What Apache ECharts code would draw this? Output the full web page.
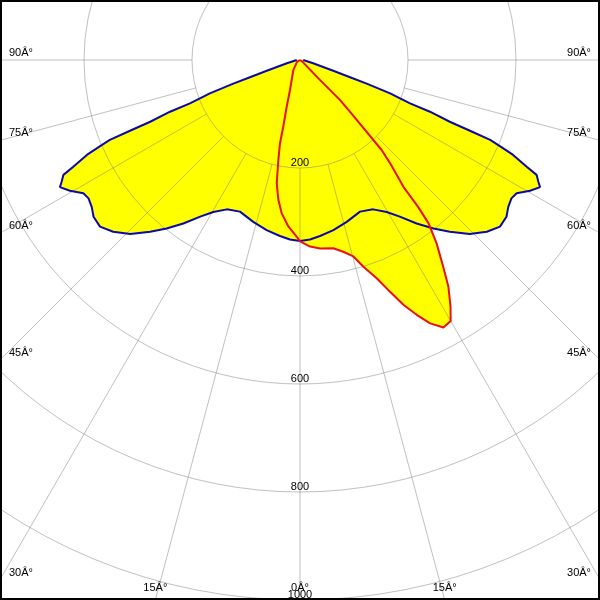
<!DOCTYPE html>
<html><head><meta charset="utf-8">
<script src="https://cdn.jsdelivr.net/npm/echarts@6/dist/echarts.min.js"></script>
<style>html,body{margin:0;padding:0;background:#fff}#c{width:600px;height:600px}</style>
</head><body><div id="c"></div>
<script>
// C0-C180 plane (symmetric): gamma (deg, one half, mirrored) and intensity
const blueGamma = [0,3.2,6.5,11.1,16.1,21.6,26.1,29.7,32.5,35.5,38.4,41.1,44.3,47.4,50.2,52.8,54.8,56.8,58.4,60.4,62.1,62.9,64.1,64.8,66.0,66.7,67.2,67.4,67.6,68.3,68.5,69.7,70.5,71,72,76,90];
const blueValue = [335,333,328,321,312,302,308,324,344,372,398,422,450,470,482,480,472,468,471,490,503,496,487,464,432,403,382,341,300,259,219,178,131,98,66,25,6];
// C90-C270 plane: gamma (deg, negative = left) and intensity
const redGamma = [-90,-60,-33.8,-18.4,-15.9,-14.1,-13.5,-12.2,-10.7,-8.8,-6.8,-4.0,-1.1,0,3.1,6.1,10.0,12.7,15.2,17.0,19.4,21.2,22.9,24.6,26.3,28.2,30.0,31.4,33.2,34.7,36.7,38.2,38.8,39.2,41.1,42.2,44.0,45,45,45,60,90];
const redValue = [0,6,22,59,90,127,159,190,232,262,286,309,327,336,346,351,354,364,377,400,429,460,492,519,544,562,558,535,502,466,423,385,349,303,254,225,133,105,79,52,4,0];
// angle tick labels (deg)
const labelAngles = [-90,-75,-60,-45,-30,-15,0,15,30,45,60,75,90];
const degSuffix = 'Â°';
// radius ticks
const radiusMin = 200, radiusMax = 1200, radiusStep = 200;

const W = 600, H = 600, CX = 300, CY = 60, R = 648; // R for radiusMax
const FONT = '"Liberation Sans", Arial, sans-serif';
const toAngle = g => (g < 0 ? 360 + g : g);

const blueData = [];
for (let i = blueGamma.length - 1; i >= 1; i--) blueData.push([blueValue[i], toAngle(-blueGamma[i])]);
for (let i = 0; i < blueGamma.length; i++) blueData.push([blueValue[i], blueGamma[i]]);
const redData = redGamma.map((g, i) => [redValue[i], toAngle(g)]);

const gridGray = 'rgba(130,130,130,0.5)';
const spokeColors = [];
for (let a = 0; a < 360; a += 15) spokeColors.push((a <= 90 || a >= 270) ? gridGray : 'rgba(0,0,0,0)');

const graphics = [];
labelAngles.forEach(g => {
  const rad = g * Math.PI / 180, s = Math.sin(rad), c = Math.cos(rad);
  const tSide = Math.abs(s) > 1e-9 ? (s > 0 ? (W - CX) / s : CX / -s) : Infinity;
  const tBot = c > 1e-9 ? (H - CY) / c : Infinity;
  const text = Math.abs(g) + degSuffix;
  let x, y, align;
  if (tSide <= tBot) {
    y = CY + tSide * c - 7;
    if (g < 0) { x = 9; align = 'left'; } else { x = 591; align = 'right'; }
  } else {
    x = CX + tBot * s; y = 588; align = 'center';
  }
  graphics.push({type: 'text', x: x, y: y, z: 50,
    style: {text: text, font: '11px ' + FONT, fill: '#000', align: align, verticalAlign: 'middle'}});
});
graphics.push({type: 'rect', z: 60, shape: {x: 1, y: 1, width: 598, height: 598},
  style: {fill: 'none', stroke: '#000', lineWidth: 2}});

const chart = echarts.init(document.getElementById('c'), null, {renderer: 'canvas'});
chart.setOption({
  animation: false,
  backgroundColor: '#fff',
  polar: [
    {center: [CX, CY], radius: R},
    {center: [CX, CY], radius: [R * radiusMin / radiusMax, R]}
  ],
  angleAxis: [
    {polarIndex: 0, type: 'value', min: 0, max: 360, startAngle: 270, clockwise: false, show: false},
    {polarIndex: 1, type: 'value', min: 0, max: 360, interval: 15, startAngle: 270, clockwise: false, z: 10,
      axisLine: {show: false}, axisTick: {show: false}, axisLabel: {show: false},
      splitLine: {show: true, lineStyle: {color: spokeColors, width: 1}}}
  ],
  radiusAxis: [
    {polarIndex: 0, type: 'value', min: 0, max: radiusMax, show: false},
    {polarIndex: 1, type: 'value', min: radiusMin, max: radiusMax, interval: radiusStep, z: 10,
      axisLine: {show: false}, axisTick: {show: false},
      axisLabel: {show: true, margin: 0, align: 'center', verticalAlign: 'bottom', fontSize: 11,
        fontFamily: FONT, color: '#000', showMinLabel: true, showMaxLabel: true,
        formatter: v => String(v)},
      splitLine: {show: true, lineStyle: {color: gridGray, width: 1}}}
  ],
  series: [
    {type: 'line', coordinateSystem: 'polar', polarIndex: 0, data: blueData, symbol: 'none', silent: true,
      lineStyle: {width: 0, opacity: 0}, areaStyle: {color: '#ffff00', opacity: 1}, z: 2},
    {type: 'line', coordinateSystem: 'polar', polarIndex: 0, data: redData, symbol: 'none', silent: true,
      lineStyle: {width: 0, opacity: 0}, areaStyle: {color: '#ffff00', opacity: 1}, z: 2},
    {type: 'line', coordinateSystem: 'polar', polarIndex: 0, data: blueData, symbol: 'none', silent: true,
      lineStyle: {color: '#0a0aa8', width: 2}, z: 20},
    {type: 'line', coordinateSystem: 'polar', polarIndex: 0, data: redData, symbol: 'none', silent: true,
      lineStyle: {color: '#e81010', width: 2}, z: 21}
  ],
  graphic: graphics
});
</script></body></html>
